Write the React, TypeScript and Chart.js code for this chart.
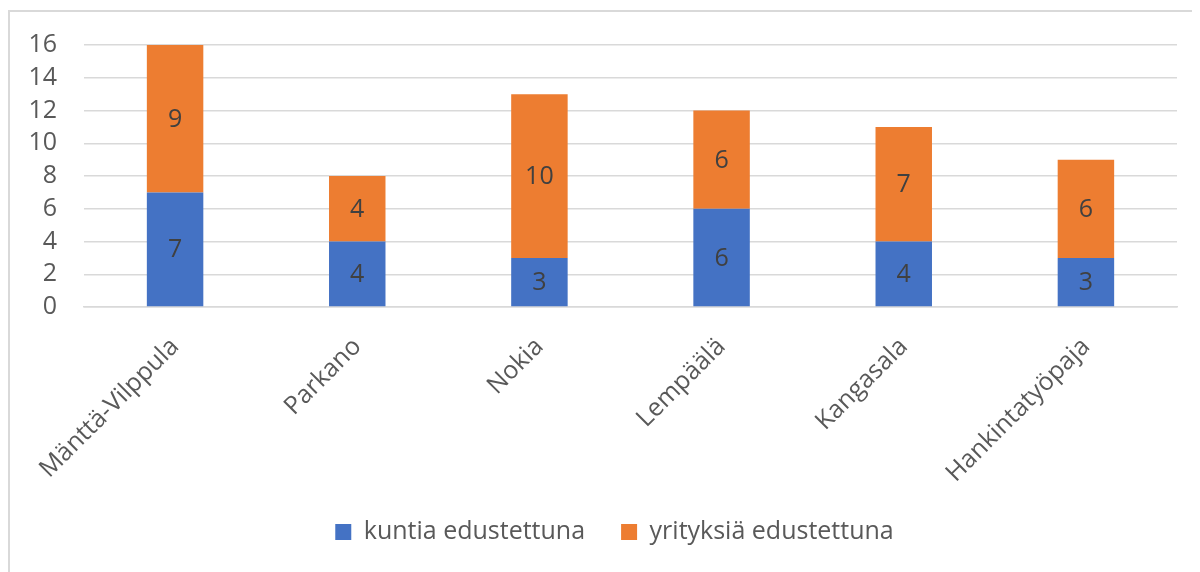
import React, { useEffect, useRef } from "react";
import { Chart, registerables } from "chart.js";

Chart.register(...registerables);

const categories = ["Mänttä-Vilppula", "Parkano", "Nokia", "Lempäälä", "Kangasala", "Hankintatyöpaja"];
const kuntiaValues = [7, 4, 3, 6, 4, 3];
const yrityksiaValues = [9, 4, 10, 6, 7, 6];
const seriesNames = ["kuntia edustettuna", "yrityksiä edustettuna"];
const yTicks = [0, 2, 4, 6, 8, 10, 12, 14, 16];

const FONT = "'Open Sans', sans-serif";
const TEXT = "#595959";
const FS = 25;

const dataLabelPlugin = {
  id: "barValueLabels",
  afterDatasetsDraw(chart: any) {
    const ctx = chart.ctx;
    ctx.save();
    ctx.font = `${FS}px ${FONT}`;
    ctx.fillStyle = "#404040";
    ctx.textAlign = "center";
    ctx.textBaseline = "middle";
    chart.data.datasets.forEach((ds: any, di: number) => {
      const meta = chart.getDatasetMeta(di);
      meta.data.forEach((el: any, i: number) => {
        const v = ds.data[i];
        const { x, y, base } = el.getProps(["x", "y", "base"], true);
        ctx.fillText(String(v), x, (y + base) / 2 + 1);
      });
    });
    ctx.restore();
  },
};

const LEGEND_PAD = 36;
const legendShiftPlugin = {
  id: "legendShift",
  afterLayout(chart: any) {
    const l = chart.legend;
    if (!l) return;
    const dx = 21;
    const targetCenter = 520;
    const currentCenter = l.top + LEGEND_PAD + FS / 2;
    const dy = targetCenter - currentCenter;
    l.left += dx;
    l.right += dx;
    l.top += dy;
    l.bottom += dy;
  },
};

export default function App() {
  const ref = useRef<HTMLCanvasElement | null>(null);
  useEffect(() => {
    if (!ref.current) return;
    const chart = new Chart(ref.current, {
      type: "bar",
      data: {
        labels: categories,
        datasets: [
          { label: seriesNames[0], data: kuntiaValues, backgroundColor: "#4472C4" },
          { label: seriesNames[1], data: yrityksiaValues, backgroundColor: "#ED7D31" },
        ],
      },
      options: {
        animation: false,
        responsive: false,
        layout: { padding: { top: 33, left: 0, right: 23, bottom: 0 } },
        datasets: { bar: { barPercentage: 0.31, categoryPercentage: 1 } },
        scales: {
          x: {
            stacked: true,
            grid: { display: false, drawTicks: false },
            border: { display: true, color: "#d9d9d9", width: 1.5 },
            ticks: {
              minRotation: 45,
              maxRotation: 45,
              padding: 25,
              color: TEXT,
              font: { family: FONT, size: FS },
            },
            afterFit(scale: any) {
              scale.height = 560 - 295 - (FS + LEGEND_PAD + 10);
            },
          },
          y: {
            stacked: true,
            min: 0,
            max: 16,
            afterBuildTicks(scale: any) {
              scale.ticks = yTicks.map((v) => ({ value: v }));
            },
            grid: { color: "#d9d9d9", lineWidth: 1.5, drawTicks: false },
            border: { display: false },
            ticks: {
              autoSkip: false,
              padding: 27,
              color: TEXT,
              font: { family: FONT, size: FS, lineHeight: 0.4 },
            },
            afterFit(scale: any) {
              scale.width = 74;
            },
          },
        },
        plugins: {
          legend: {
            position: "bottom",
            labels: {
              boxWidth: 16,
              boxHeight: 16,
              padding: LEGEND_PAD,
              color: TEXT,
              font: { family: FONT, size: FS },
            },
          },
          tooltip: { enabled: false },
        },
      },
      plugins: [dataLabelPlugin, legendShiftPlugin],
    });
    return () => chart.destroy();
  }, []);
  return (
    <div
      style={{
        marginTop: 2,
        width: 1192,
        height: 562,
        borderTop: "2px solid #d9d9d9",
        borderLeft: "2px solid #d9d9d9",
        boxSizing: "border-box",
      }}
    >
      <canvas ref={ref} width={1190} height={560} style={{ display: "block" }} />
    </div>
  );
}
